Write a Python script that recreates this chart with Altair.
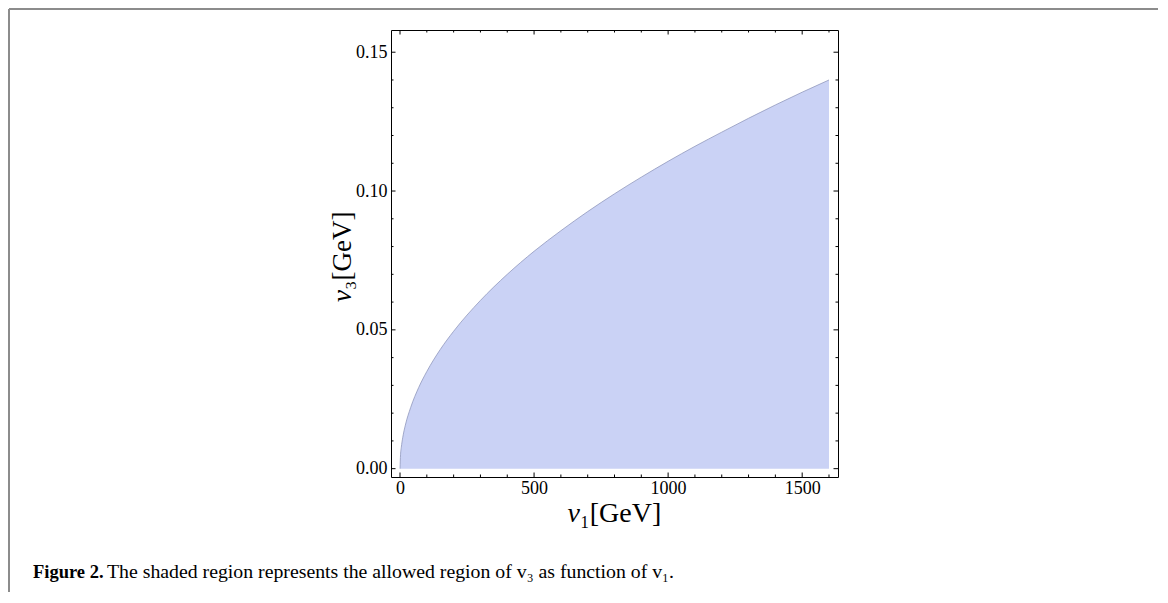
import altair as alt
import pandas as pd

# ---- data ----
v1_vals = [0, 2, 5, 10, 20, 40, 70, 100, 150, 200, 300, 400, 500, 600, 700,
           800, 900, 1000, 1100, 1200, 1300, 1400, 1500, 1600]
v3_vals = [0.0, 0.005, 0.0078, 0.0111, 0.0157, 0.0221, 0.0293, 0.035, 0.0429,
           0.0495, 0.0606, 0.070, 0.0783, 0.0857, 0.0926, 0.099, 0.105, 0.1107,
           0.1161, 0.1212, 0.1262, 0.131, 0.1356, 0.140]

x_major = [0, 500, 1000, 1500]
x_minor = [100, 200, 300, 400, 600, 700, 800, 900, 1100, 1200, 1300, 1400, 1600]
y_major = [0.0, 0.05, 0.10, 0.15]
y_minor = [0.01, 0.02, 0.03, 0.04, 0.06, 0.07, 0.08, 0.09, 0.11, 0.12, 0.13, 0.14]

x_title_v = ["v"]
x_title_rest = ["\u2081[GeV]"]
y_title_v = ["v"]
y_title_rest = ["\u2083[GeV]"]
caption_bold = ["Figure 2."]
caption_rest = ["The shaded region represents the allowed region of v\u2083 as function of v\u2081."]

W, H = 447, 447
FONT = "Liberation Serif"

df = pd.DataFrame({"v1": v1_vals, "v3": v3_vals})
xs = alt.Scale(domain=[-33.6, 1633.6], nice=False, zero=False)
ys = alt.Scale(domain=[-0.003, 0.158], nice=False, zero=False)
common = dict(title=None, ticks=False, tickSize=0, domain=False, grid=False,
              labelFont=FONT, labelFontSize=18, labelColor="black", labelOverlap=False)
ax_x = alt.Axis(values=x_major, format="d", labelPadding=2, labelBaseline="top", **common)
ax_y = alt.Axis(values=y_major, format=".2f", labelPadding=4, **common)

X = lambda: alt.X("v1:Q", scale=xs, axis=ax_x)
Y = lambda: alt.Y("v3:Q", scale=ys, axis=ax_y)

area = alt.Chart(df).mark_area(color="#CAD2F5", interpolate="monotone").encode(
    x=X(), y=Y(), y2=alt.datum(0),
)
curve = alt.Chart(df).mark_line(color="#9098BC", strokeWidth=0.8, interpolate="monotone").encode(
    x=X(), y=Y(),
)

def xticks(vals, ln):
    d = pd.DataFrame({"v1": vals})
    bot = alt.Chart(d).mark_rule(color="black", strokeWidth=1).encode(
        x=X(), y=alt.value(H), y2=alt.value(H - ln))
    top = alt.Chart(d).mark_rule(color="black", strokeWidth=1).encode(
        x=X(), y=alt.value(0), y2=alt.value(ln))
    return [bot, top]

def yticks(vals, ln):
    d = pd.DataFrame({"v3": vals})
    left = alt.Chart(d).mark_rule(color="black", strokeWidth=1).encode(
        y=Y(), x=alt.value(0), x2=alt.value(ln))
    right = alt.Chart(d).mark_rule(color="black", strokeWidth=1).encode(
        y=Y(), x=alt.value(W), x2=alt.value(W - ln))
    return [left, right]

def txt(s, x, y, size, align="left", angle=0, style="normal", weight="normal"):
    d = pd.DataFrame({"t": s})
    return alt.Chart(d).mark_text(align=align, baseline="alphabetic", angle=angle,
                                  fontSize=size, font=FONT, fontStyle=style,
                                  fontWeight=weight, color="black").encode(
        text="t:N", x=alt.value(x), y=alt.value(y))

def vline(x, y0, y1):
    d = pd.DataFrame({"a": [0]})
    return alt.Chart(d).mark_rule(color="#8c8c8c", strokeWidth=2).encode(
        x=alt.value(x), y=alt.value(y0), y2=alt.value(y1))

def hline(y, x0, x1):
    d = pd.DataFrame({"a": [0]})
    return alt.Chart(d).mark_rule(color="#8c8c8c", strokeWidth=2).encode(
        y=alt.value(y), x=alt.value(x0), x2=alt.value(x1))

layers = [area, curve]
layers += xticks(x_major, 4.5) + xticks(x_minor, 2.5)
layers += yticks(y_major, 4.5) + yticks(y_minor, 2.5)
layers += [
    txt(x_title_v, 189, 492, 28, align="right", style="italic"),
    txt(x_title_rest, 189, 492, 28, align="left"),
    txt(y_title_v, -40, 260, 27, align="right", angle=270, style="italic"),
    txt(y_title_rest, -40, 260, 27, align="left", angle=270),
    txt(caption_bold, -358, 548, 18.5, weight="bold"),
    txt(caption_rest, -284, 548, 19.8),
    vline(-382, -21, 562),
    vline(771, -21, 562),
    hline(-21, -382, 771),
]

chart = alt.layer(*layers).properties(
    width=W, height=H,
    background="white",
    autosize=alt.AutoSizeParams(type="none"),
    padding={"left": 383, "top": 22, "right": 320, "bottom": 116},
).configure_view(stroke="black", strokeWidth=1)

chart.save("out.html", embed_options={"renderer": "svg", "actions": False})
